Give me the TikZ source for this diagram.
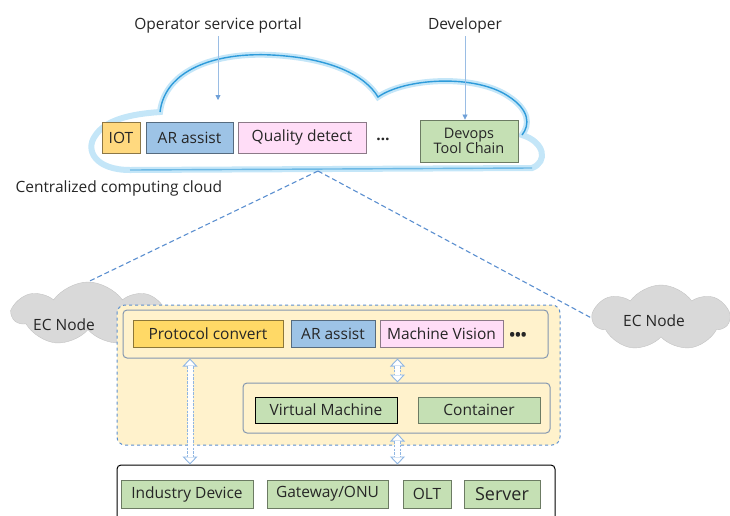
\documentclass[tikz,border=0pt]{standalone}
\usepackage{fontspec}
\setmainfont{Open Sans}
\usetikzlibrary{arrows.meta, positioning, shapes.symbols}
\definecolor{skyblue}{HTML}{2E9BDA}
\definecolor{glowblue}{HTML}{C4E6F8}
\definecolor{pinblue}{HTML}{6FA0D8}
\definecolor{iotyel}{HTML}{FFD97F}
\definecolor{protyel}{HTML}{FFD966}
\definecolor{arblue}{HTML}{9DC3E6}
\definecolor{qpink}{HTML}{FFDDF7}
\definecolor{devgreen}{HTML}{C5E0B4}
\definecolor{edgecream}{HTML}{FFF2CC}
\definecolor{dashblue}{HTML}{5B8FD0}
\definecolor{framegray}{HTML}{8497B0}
\definecolor{txtgray}{HTML}{262626}
\definecolor{cloudgray}{HTML}{D9D9D9}
\definecolor{arrowblue}{HTML}{8FB6E3}

\begin{document}
\begin{tikzpicture}[x=1pt, y=-1pt,
  every node/.style={text=txtgray, font=\fontsize{15.5}{18}\selectfont},
  appbox/.style={draw=#1!55!black, fill=#1, line width=0.9pt, inner sep=0pt, minimum height=27pt},
  frame/.style={draw=framegray, fill=edgecream, line width=1pt, rounded corners=4pt, inner sep=0pt},
  eccloud/.style={cloud, cloud puffs=7, cloud puff arc=110, aspect=2.2, fill=cloudgray, draw=cloudgray!90!black, line width=0.4pt},
  pin/.style={draw=pinblue!70, line width=0.8pt, -{Triangle[length=5pt, width=5pt, color=pinblue]}},
  uplink/.style={draw=dashblue, line width=1.1pt, dash pattern=on 5pt off 3pt},
  hollowarrow/.style={draw=arrowblue, line width=7pt, dash pattern=on 2.5pt off 1.2pt,
    {Triangle[fill=white, line width=0.9pt, length=8pt, width=15pt]}-{Triangle[fill=white, line width=0.9pt, length=8pt, width=15pt]},
    postaction={draw=white, line width=5pt, solid, arrows=-, shorten <=7.6pt, shorten >=7.6pt}},
]
\useasboundingbox (0,0) rectangle (730,515);
\clip (0,0) rectangle (730,515);

% Centralized cloud
\path[draw=glowblue, line width=6pt, fill=white]
  (160,112) .. controls (165,70) and (215,52) .. (272,55)
  .. controls (330,58) and (365,75) .. (378,97)
  .. controls (405,78) and (475,74) .. (508,96)
  .. controls (530,110) and (530,125) .. (522,135)
  .. controls (545,142) and (548,162) .. (532,168)
  -- (130,170)
  .. controls (95,170) and (85,150) .. (95,136)
  .. controls (105,120) and (130,114) .. (160,112) -- cycle;
\draw[skyblue, line width=1.4pt]
  (160,112) .. controls (165,70) and (215,52) .. (272,55)
  .. controls (330,58) and (365,75) .. (378,97)
  .. controls (405,78) and (475,74) .. (508,96)
  .. controls (530,110) and (530,125) .. (522,135);
\draw[skyblue!70, line width=1.4pt] (532,168) -- (130,170);
\coordinate (cloudbase) at (318,171);

% Portal and developer
\node (portal) at (218,25) {Operator service portal};
\node (dev) at (465,25) {Developer};
\node[appbox=iotyel, minimum width=38pt, minimum height=31pt] (iot) at (121,137.5) {IOT};
\node[appbox=arblue, minimum width=87pt, minimum height=31pt] (arc) at (189.5,137.5) {AR assist};
\node[appbox=qpink, minimum width=128pt, minimum height=31pt] (qual) at (302,137.5) {Quality detect};
\node (moreapp) at (383,139) {\textbf{\dots}};
\node[appbox=devgreen, minimum width=98pt, minimum height=42pt, align=center, font=\fontsize{14.5}{15}\selectfont] (devops) at (469,141) {Devops\\Tool Chain};
\coordinate (portalend) at (218,100);
\draw[pin] (portal.south) -- (portalend);
\draw[pin] (dev.south) -- (dev.south |- devops.north);
\node[anchor=west] (cccloud) at (12,188) {Centralized computing cloud};

% EC nodes
\node[eccloud, minimum width=150pt, minimum height=64pt] (ecl) at (88,314) {};
\node[eccloud, minimum width=136pt, minimum height=66pt] (ecr) at (661,318) {};
\draw[uplink] (cloudbase) -- (ecl.north);
\draw[uplink] (cloudbase) -- (ecr.west);
\node (ecltext) at (64,325) {EC Node};
\node (ecrtext) at (654,321) {EC Node};

% Edge zone
\node[draw=dashblue, fill=edgecream, dashed, line width=1pt, rounded corners=8pt, minimum width=443pt, minimum height=140pt, inner sep=0pt] (edgezone) at (338.5,375) {};
\node[frame, minimum width=425pt, minimum height=48pt] (svcrow) at (335.5,334) {};
\node[appbox=protyel, minimum width=150pt] (proto) at (208,333.5) {Protocol convert};
\node[appbox=arblue, minimum width=84pt] (arl) at (333,333.5) {AR assist};
\node[appbox=qpink, minimum width=123pt] (mvis) at (441.5,333.5) {Machine Vision};
\node (moresvc) at (518,336) {\textbf{\textbullet\textbullet\textbullet}};
\node[frame, minimum width=307pt, minimum height=50pt] (hostrow) at (396.5,408) {};
\node[appbox=devgreen, draw=black, minimum width=142pt, minimum height=26pt] (vm) at (326,410) {Virtual Machine};
\node[appbox=devgreen, minimum width=122pt, minimum height=26pt] (ctr) at (479,410) {Container};

% Devices
\node[draw=black, line width=1pt, rounded corners=4pt, minimum width=438pt, minimum height=70pt, inner sep=0pt] (devrow) at (336,500) {};
\node[appbox=devgreen, minimum width=132pt, minimum height=28pt] (ind) at (187,494) {Industry Device};
\node[appbox=devgreen, minimum width=121pt, minimum height=28pt] (gw) at (327.5,494) {Gateway/ONU};
\node[appbox=devgreen, minimum width=48pt, minimum height=28pt] (olt) at (427,494) {OLT};
\node[appbox=devgreen, minimum width=76pt, minimum height=28pt, font=\fontsize{18}{20}\selectfont] (srv) at (502,494) {Server};

% Links
\coordinate (lk) at (190,0);
\draw[hollowarrow] (svcrow.south -| lk) -- (devrow.north -| lk);
\draw[hollowarrow] (svcrow.south -| vm.east) -- (hostrow.north -| vm.east);
\draw[hollowarrow] (hostrow.south -| vm.east) -- (devrow.north -| vm.east);

\end{tikzpicture}
\end{document}
